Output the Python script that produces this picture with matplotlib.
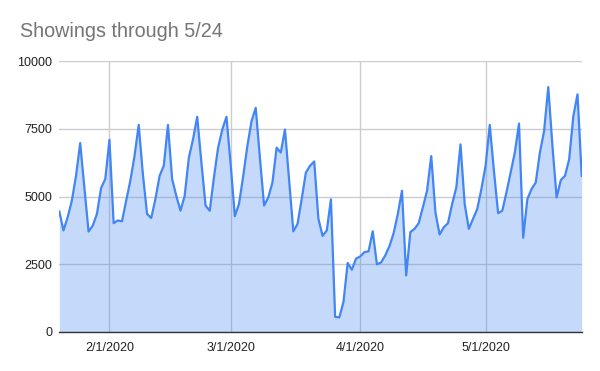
import pandas as pd
import matplotlib.pyplot as plt
import matplotlib.dates as mdates

# Daily showings, 1/20/2020 through 5/24/2020
start_date = "2020-01-20"
end_date = "2020-05-24"
showings = [
    4450, 3750, 4240, 4850, 5770, 6980, 5340, 3710, 3930, 4360,   # Jan 20-29
    5320, 5650, 7100, 4020, 4120, 4090, 4850, 5590, 6500, 7650,   # Jan 30-Feb 8
    5830, 4360, 4210, 4910, 5770, 6140, 7650, 5650, 5030, 4480,   # Feb 9-18
    5030, 6440, 7120, 7950, 6260, 4670, 4480, 5710, 6810, 7480,   # Feb 19-28
    7950, 6200, 4280, 4730, 5750, 6870, 7790, 8280, 6440, 4670,   # Feb 29-Mar 9
    4970, 5520, 6810, 6630, 7480, 5590, 3720, 3990, 4910, 5890,   # Mar 10-19
    6140, 6300, 4180, 3550, 3750, 4900, 560, 540, 1110, 2550,     # Mar 20-29
    2300, 2710, 2790, 2950, 2980, 3720, 2500, 2570, 2830, 3170,   # Mar 30-Apr 8
    3650, 4360, 5220, 2090, 3690, 3810, 4020, 4610, 5220, 6500,   # Apr 9-18
    4420, 3600, 3870, 4020, 4730, 5340, 6930, 4730, 3810, 4180,   # Apr 19-28
    4540, 5280, 6140, 7650, 5950, 4390, 4480, 5160, 5890, 6630,   # Apr 29-May 8
    7700, 3480, 4910, 5280, 5520, 6630, 7420, 9050, 6870, 4970,   # May 9-18
    5610, 5770, 6380, 7970, 8780, 5770,                           # May 19-24
]
dates = pd.date_range(start_date, end_date, freq="D")
y_ticks = [0, 2500, 5000, 7500, 10000]

fig = plt.figure(figsize=(6, 3.71), dpi=100)
ax = fig.add_axes([59.3 / 600, 39 / 371, 522.4 / 600, 270.7 / 371])

ax.fill_between(dates, showings, 0, color="#4285f4", alpha=0.3, linewidth=0, zorder=2)
ax.plot(dates, showings, color="#4285f4", linewidth=1.6, zorder=3)

ax.set_xlim(dates[0], dates[-1])
ax.set_ylim(0, 10000)
ax.set_yticks(y_ticks)
ax.set_yticklabels([str(v) for v in y_ticks])
ax.xaxis.set_major_locator(mdates.MonthLocator(bymonth=[2, 3, 4, 5]))
ax.xaxis.set_major_formatter(mdates.DateFormatter("%-m/%-d/%Y"))

ax.grid(True, color="#cccccc", linewidth=1, zorder=1)
ax.set_axisbelow(True)
for side in ["top", "right", "left"]:
    ax.spines[side].set_visible(False)
ax.spines["bottom"].set_color("#333333")
ax.spines["bottom"].set_linewidth(1)
ax.spines["bottom"].set_zorder(4)

ax.tick_params(axis="both", length=0, labelsize=9, labelcolor="#222222",
               labelfontfamily="Liberation Sans")
ax.tick_params(axis="y", pad=5)
ax.tick_params(axis="x", pad=7)

fig.text(20 / 600, 1 - 37 / 371, "Showings through 5/24", fontsize=14.2,
         color="#757575", family="Liberation Sans", ha="left", va="baseline")

fig.savefig("out.png", dpi=100, facecolor="white")
